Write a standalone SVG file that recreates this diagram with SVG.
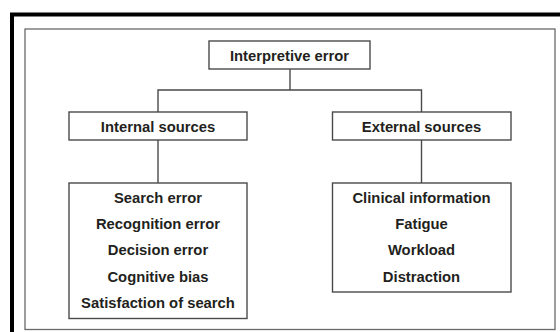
<svg xmlns="http://www.w3.org/2000/svg" width="560" height="332" viewBox="0 0 560 332">
<style>
.box{fill:#fff;stroke:#4a4a4a;stroke-width:1.4}
.t{font-family:"Liberation Sans",Arial,sans-serif;font-weight:bold;font-size:14.8px;fill:#231f20;text-anchor:middle}
.c{fill:none;stroke:#4a4a4a;stroke-width:1.4}
</style>
<rect width="560" height="332" fill="#fff"/>
<path d="M12 332 V14.5 H560" fill="none" stroke="#000" stroke-width="4"/>
<rect x="25" y="29" width="530" height="300.5" fill="none" stroke="#6a6a6a" stroke-width="1.3"/>
<g id="connectors">
<path class="c" d="M290 69 V90 M158 112 V90 H421.5 V112"/>
<path class="c" d="M158 140 V183"/>
<path class="c" d="M421.5 140 V183"/>
</g>
<g id="interpretive">
<rect class="box" x="209" y="41" width="161" height="28"/>
<text class="t" x="289.5" y="61">Interpretive error</text>
</g>
<g id="internal">
<rect class="box" x="69" y="112" width="178" height="28"/>
<text class="t" x="158" y="131.5">Internal sources</text>
</g>
<g id="external">
<rect class="box" x="332.5" y="112" width="178.5" height="28"/>
<text class="t" x="421.5" y="131.5">External sources</text>
</g>
<g id="internal-list">
<rect class="box" x="69" y="183" width="178" height="135.5"/>
<text class="t" x="158" y="203">Search error</text>
<text class="t" x="158" y="229.2">Recognition error</text>
<text class="t" x="158" y="255.4">Decision error</text>
<text class="t" x="158" y="281.6">Cognitive bias</text>
<text class="t" x="158" y="307.8">Satisfaction of search</text>
</g>
<g id="external-list">
<rect class="box" x="332.5" y="183" width="178.5" height="109"/>
<text class="t" x="421.5" y="203">Clinical information</text>
<text class="t" x="421.5" y="229.2">Fatigue</text>
<text class="t" x="421.5" y="255.4">Workload</text>
<text class="t" x="421.5" y="281.6">Distraction</text>
</g>
</svg>
